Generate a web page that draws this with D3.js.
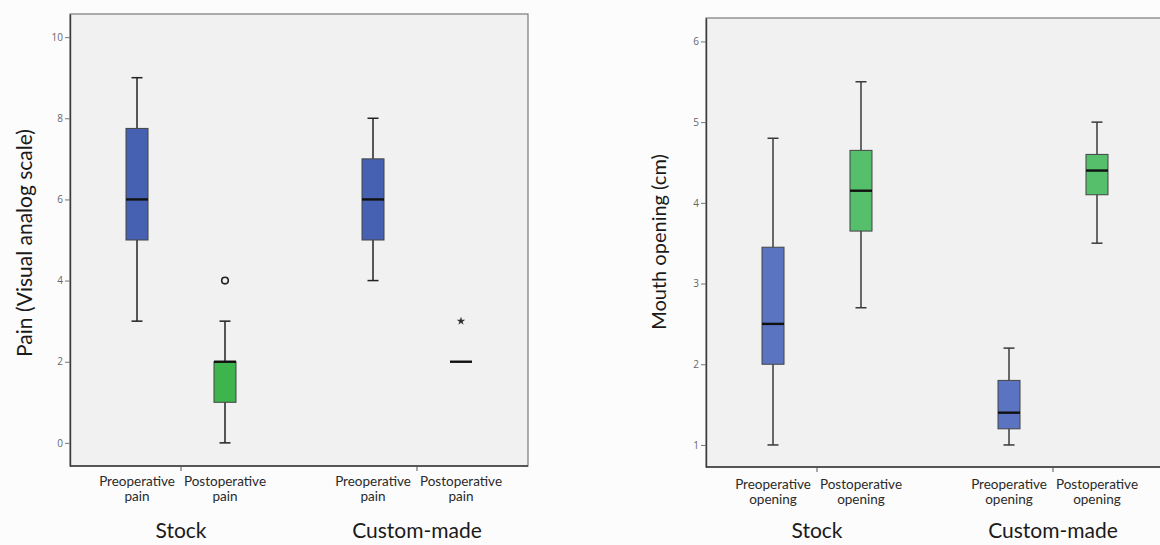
<!DOCTYPE html>
<html>
<head>
<meta charset="utf-8">
<script src="https://cdn.jsdelivr.net/npm/d3@7"></script>
<style>
  html, body { margin: 0; padding: 0; background: #fcfcfc; }
  svg { display: block; }
</style>
</head>
<body>
<svg id="chart" width="1160" height="545"></svg>
<script>
// ---------- data ----------
const clusters = ["Stock", "Custom-made"];

const painCategories = [["Preoperative", "pain"], ["Postoperative", "pain"]];
const painTicks = [0, 2, 4, 6, 8, 10];
const painMin    = [3,    0, 4, 2];
const painQ1     = [5,    1, 5, 2];
const painMedian = [6,    2, 6, 2];
const painQ3     = [7.75, 2, 7, 2];
const painMax    = [9,    3, 8, 2];
const painOutliers = [[], [4], [], []];
const painExtremes = [[], [], [], [3]];

const mouthCategories = [["Preoperative", "opening"], ["Postoperative", "opening"]];
const mouthTicks = [1, 2, 3, 4, 5, 6];
const mouthMin    = [1.0,  2.7,  1.0, 3.5];
const mouthQ1     = [2.0,  3.65, 1.2, 4.1];
const mouthMedian = [2.5,  4.15, 1.4, 4.4];
const mouthQ3     = [3.45, 4.65, 1.8, 4.6];
const mouthMax    = [4.8,  5.5,  2.2, 5.0];
const mouthOutliers = [[], [], [], []];
const mouthExtremes = [[], [], [], []];

// ---------- drawing ----------
const svg = d3.select("#chart");
const FONT = "Lato, 'Open Sans', sans-serif";

function drawPanel(cfg) {
  const g = svg.append("g");
  const { x0, x1, top, bottom } = cfg;

  // plot background + frame
  g.append("rect")
    .attr("x", x0).attr("y", top)
    .attr("width", x1 - x0).attr("height", bottom - top)
    .attr("fill", "#f1f1f1")
    .attr("stroke", "#7a7a7a").attr("stroke-width", 1.2);

  const y = d3.scaleLinear().domain(cfg.yDomain).range([bottom, top]);
  const xc = d3.scaleBand().domain(clusters).range([x0, x1])
    .paddingInner(0.1).paddingOuter(0.02035);
  const xi = d3.scalePoint().domain([0, 1]).range([0, xc.bandwidth()]).padding(0.707);

  // y axis
  const yAxis = d3.axisLeft(y).tickValues(cfg.ticks).tickSize(5).tickSizeOuter(0).tickPadding(2)
    .tickFormat(d3.format("d"));
  const ya = g.append("g").attr("transform", `translate(${x0},0)`).call(yAxis);
  ya.select(".domain").attr("stroke", "#3a3a3a").attr("stroke-width", 1.4);
  ya.selectAll(".tick line").attr("stroke", "#777");
  ya.selectAll(".tick text").attr("fill", "#666").attr("font-size", 10)
    .attr("font-family", "'Open Sans', sans-serif");

  // x axis (bottom line + ticks between categories)
  g.append("line").attr("x1", x0).attr("x2", x1).attr("y1", bottom).attr("y2", bottom)
    .attr("stroke", "#3a3a3a").attr("stroke-width", 1.4);
  clusters.forEach(c => {
    const cx = xc(c) + xc.bandwidth() / 2;
    g.append("line").attr("x1", cx).attr("x2", cx).attr("y1", bottom).attr("y2", bottom + 5)
      .attr("stroke", "#555").attr("stroke-width", 1);
    g.append("text").attr("x", cx).attr("y", cfg.clusterY)
      .attr("text-anchor", "middle").attr("font-family", FONT)
      .attr("font-size", 21).attr("fill", "#1a1a1a").text(c);
    cfg.categories.forEach((lines, j) => {
      const x = xc(c) + xi(j);
      const t = g.append("text").attr("text-anchor", "middle").attr("font-family", FONT)
        .attr("font-size", 13.5).attr("fill", "#2a2a2a");
      lines.forEach((ln, k) => {
        t.append("tspan").attr("x", x).attr("y", cfg.catY + k * 15).text(ln);
      });
    });
  });

  // y title
  g.append("text")
    .attr("transform", `translate(${cfg.titleX},${cfg.titleY}) rotate(-90)`)
    .attr("text-anchor", "middle").attr("font-family", FONT)
    .attr("font-size", cfg.titleSize).attr("fill", "#1a1a1a").text(cfg.title);

  // boxes
  const bw = 22;
  cfg.median.forEach((m, i) => {
    const c = clusters[Math.floor(i / 2)];
    const j = i % 2;
    const cx = xc(c) + xi(j);
    const fill = j === 0 ? cfg.blue : cfg.green;
    const q1 = cfg.q1[i], q3 = cfg.q3[i], mn = cfg.min[i], mx = cfg.max[i];
    if (mx > q3) {
      g.append("line").attr("x1", cx).attr("x2", cx).attr("y1", y(q3)).attr("y2", y(mx))
        .attr("stroke", cfg.whisker).attr("stroke-width", 1.5);
      g.append("line").attr("x1", cx - bw / 4).attr("x2", cx + bw / 4).attr("y1", y(mx)).attr("y2", y(mx))
        .attr("stroke", cfg.whisker).attr("stroke-width", 1.5);
    }
    if (mn < q1) {
      g.append("line").attr("x1", cx).attr("x2", cx).attr("y1", y(q1)).attr("y2", y(mn))
        .attr("stroke", cfg.whisker).attr("stroke-width", 1.5);
      g.append("line").attr("x1", cx - bw / 4).attr("x2", cx + bw / 4).attr("y1", y(mn)).attr("y2", y(mn))
        .attr("stroke", cfg.whisker).attr("stroke-width", 1.5);
    }
    if (q3 > q1) {
      g.append("rect").attr("x", cx - bw / 2).attr("y", y(q3))
        .attr("width", bw).attr("height", y(q1) - y(q3))
        .attr("fill", fill).attr("stroke", "#444").attr("stroke-width", 1);
    }
    g.append("line").attr("x1", cx - bw / 2).attr("x2", cx + bw / 2)
      .attr("y1", y(m)).attr("y2", y(m))
      .attr("stroke", "#111").attr("stroke-width", 2.4);
    cfg.outliers[i].forEach(v => {
      g.append("circle").attr("cx", cx).attr("cy", y(v)).attr("r", 3.3)
        .attr("fill", "none").attr("stroke", "#222").attr("stroke-width", 1.6);
    });
    cfg.extremes[i].forEach(v => {
      g.append("path").attr("d", d3.symbol(d3.symbolStar).size(22)())
        .attr("transform", `translate(${cx},${y(v)})`).attr("fill", "#333");
    });
  });
}

drawPanel({
  x0: 70, x1: 528, top: 14, bottom: 466,
  yDomain: [-0.57, 10.57], ticks: painTicks,
  categories: painCategories,
  min: painMin, q1: painQ1, median: painMedian, q3: painQ3, max: painMax,
  outliers: painOutliers, extremes: painExtremes,
  blue: "#4661b1", green: "#3db54c", whisker: "#222",
  title: "Pain (Visual analog scale)", titleX: 32, titleY: 243, titleSize: 21,
  catY: 486, clusterY: 538
});

drawPanel({
  x0: 706, x1: 1164, top: 18, bottom: 467,
  yDomain: [0.727, 6.29], ticks: mouthTicks,
  categories: mouthCategories,
  min: mouthMin, q1: mouthQ1, median: mouthMedian, q3: mouthQ3, max: mouthMax,
  outliers: mouthOutliers, extremes: mouthExtremes,
  blue: "#5a74c1", green: "#55bf6b", whisker: "#3a3a3a",
  title: "Mouth opening (cm)", titleX: 666, titleY: 242, titleSize: 20,
  catY: 489, clusterY: 538
});
</script>
</body>
</html>
